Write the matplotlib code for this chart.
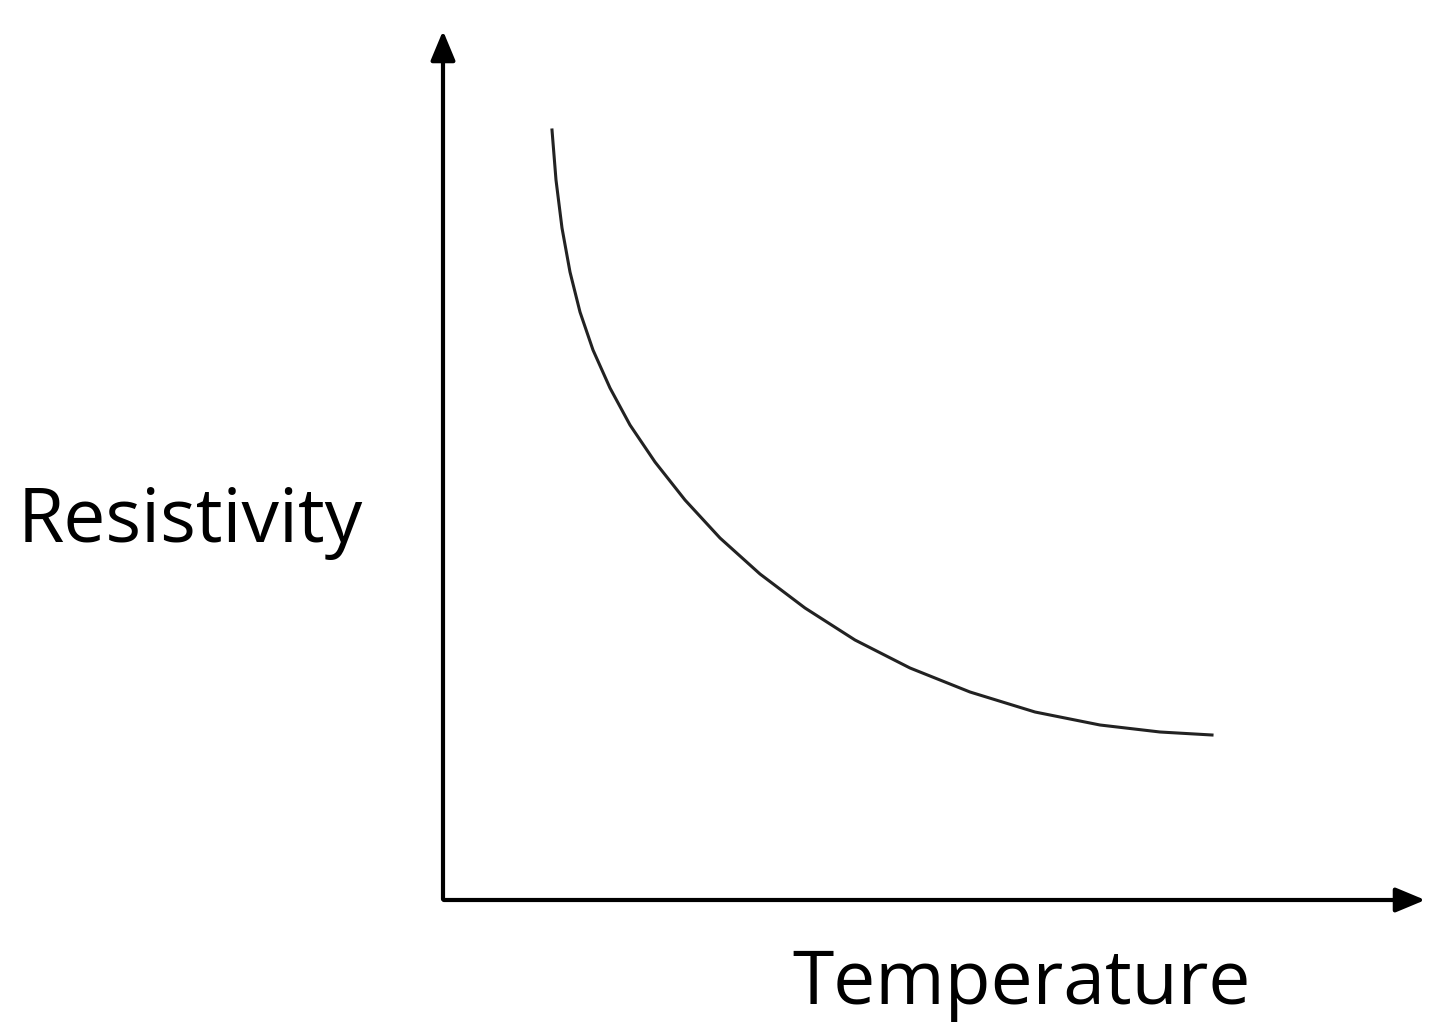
import matplotlib
matplotlib.use("Agg")
import matplotlib.pyplot as plt

# curve points (pixel-like units, y downward)
temperature = [552, 556, 562, 570, 580, 593, 610, 630, 655, 685, 720, 760, 805, 855, 910, 970, 1035, 1100, 1160, 1212]
resistivity = [130, 180, 228, 272, 312, 350, 388, 425, 462, 500, 538, 574, 608, 640, 668, 692, 712, 725, 732, 735]
x_label = "Temperature"
y_label = "Resistivity"

fig = plt.figure(figsize=(14.4, 10.36), dpi=100)
ax = fig.add_axes([0, 0, 1, 1])
ax.set_xlim(0, 1440)
ax.set_ylim(1036, 0)
ax.axis("off")

ax.plot(temperature, resistivity, color="#222222", lw=2.2)
ax.annotate("", xy=(443, 28), xytext=(443, 902),
            arrowprops=dict(arrowstyle="-|>,head_length=1.8,head_width=0.75", color="black", lw=3))
ax.annotate("", xy=(1428, 900), xytext=(441, 900),
            arrowprops=dict(arrowstyle="-|>,head_length=1.8,head_width=0.75", color="black", lw=3))
ax.text(190, 522, y_label, fontsize=54, family="Open Sans", ha="center", va="center")
ax.text(1022, 985, x_label, fontsize=54, family="Open Sans", ha="center", va="center")
fig.savefig("out.png", dpi=100, facecolor="white")
